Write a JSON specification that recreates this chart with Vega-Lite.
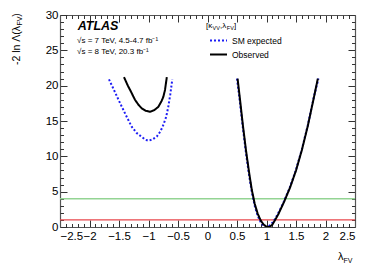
{
  "$schema": "https://vega.github.io/schema/vega-lite/v6.json",
  "width": 295,
  "height": 212,
  "autosize": {"type": "none"},
  "padding": {"left": 60, "top": 15, "right": 19, "bottom": 44},
  "background": "white",
  "config": {
    "view": {"stroke": null},
    "font": "Liberation Sans",
    "text": {"font": "Liberation Sans", "color": "black"},
    "axis": {"grid": false, "labelFont": "Liberation Sans", "labelFontSize": 11, "labelColor": "black", "domainColor": "#555", "domainWidth": 1.2, "tickColor": "#333", "tickWidth": 1, "title": null, "labelOverlap": false},
    "legend": {"padding": 0}
  },
  "datasets": {
    "curves": [
      {"series": "SM expected", "branch": "L", "lambda": -1.67, "nll": 20.9},
      {"series": "SM expected", "branch": "L", "lambda": -1.58, "nll": 19.3},
      {"series": "SM expected", "branch": "L", "lambda": -1.48, "nll": 17.5},
      {"series": "SM expected", "branch": "L", "lambda": -1.37, "nll": 15.6},
      {"series": "SM expected", "branch": "L", "lambda": -1.285, "nll": 14.2},
      {"series": "SM expected", "branch": "L", "lambda": -1.2, "nll": 13.3},
      {"series": "SM expected", "branch": "L", "lambda": -1.115, "nll": 12.75},
      {"series": "SM expected", "branch": "L", "lambda": -1.05, "nll": 12.35},
      {"series": "SM expected", "branch": "L", "lambda": -1.0, "nll": 12.2},
      {"series": "SM expected", "branch": "L", "lambda": -0.93, "nll": 12.4},
      {"series": "SM expected", "branch": "L", "lambda": -0.86, "nll": 12.8},
      {"series": "SM expected", "branch": "L", "lambda": -0.8, "nll": 13.5},
      {"series": "SM expected", "branch": "L", "lambda": -0.75, "nll": 14.4},
      {"series": "SM expected", "branch": "L", "lambda": -0.7, "nll": 15.6},
      {"series": "SM expected", "branch": "L", "lambda": -0.665, "nll": 17.0},
      {"series": "SM expected", "branch": "L", "lambda": -0.63, "nll": 18.8},
      {"series": "SM expected", "branch": "L", "lambda": -0.597, "nll": 20.9},
      {"series": "SM expected", "branch": "R", "lambda": 0.5, "nll": 21.0},
      {"series": "SM expected", "branch": "R", "lambda": 0.55, "nll": 17.6},
      {"series": "SM expected", "branch": "R", "lambda": 0.6, "nll": 14.0},
      {"series": "SM expected", "branch": "R", "lambda": 0.65, "nll": 10.6},
      {"series": "SM expected", "branch": "R", "lambda": 0.7, "nll": 7.6},
      {"series": "SM expected", "branch": "R", "lambda": 0.75, "nll": 5.0},
      {"series": "SM expected", "branch": "R", "lambda": 0.8, "nll": 3.0},
      {"series": "SM expected", "branch": "R", "lambda": 0.85, "nll": 1.6},
      {"series": "SM expected", "branch": "R", "lambda": 0.9, "nll": 0.7},
      {"series": "SM expected", "branch": "R", "lambda": 0.95, "nll": 0.18},
      {"series": "SM expected", "branch": "R", "lambda": 1.0, "nll": 0.0},
      {"series": "SM expected", "branch": "R", "lambda": 1.05, "nll": 0.2},
      {"series": "SM expected", "branch": "R", "lambda": 1.1, "nll": 0.6},
      {"series": "SM expected", "branch": "R", "lambda": 1.15, "nll": 1.2},
      {"series": "SM expected", "branch": "R", "lambda": 1.2, "nll": 2.0},
      {"series": "SM expected", "branch": "R", "lambda": 1.25, "nll": 2.8},
      {"series": "SM expected", "branch": "R", "lambda": 1.3, "nll": 3.7},
      {"series": "SM expected", "branch": "R", "lambda": 1.35, "nll": 4.7},
      {"series": "SM expected", "branch": "R", "lambda": 1.4, "nll": 5.7},
      {"series": "SM expected", "branch": "R", "lambda": 1.5, "nll": 8.1},
      {"series": "SM expected", "branch": "R", "lambda": 1.6, "nll": 11.0},
      {"series": "SM expected", "branch": "R", "lambda": 1.7, "nll": 14.4},
      {"series": "SM expected", "branch": "R", "lambda": 1.8, "nll": 18.3},
      {"series": "SM expected", "branch": "R", "lambda": 1.88, "nll": 21.0},
      {"series": "Observed", "branch": "L", "lambda": -1.415, "nll": 21.2},
      {"series": "Observed", "branch": "L", "lambda": -1.35, "nll": 20.0},
      {"series": "Observed", "branch": "L", "lambda": -1.3, "nll": 19.2},
      {"series": "Observed", "branch": "L", "lambda": -1.229, "nll": 18.0},
      {"series": "Observed", "branch": "L", "lambda": -1.17, "nll": 17.3},
      {"series": "Observed", "branch": "L", "lambda": -1.115, "nll": 16.8},
      {"series": "Observed", "branch": "L", "lambda": -1.05, "nll": 16.45},
      {"series": "Observed", "branch": "L", "lambda": -0.975, "nll": 16.3},
      {"series": "Observed", "branch": "L", "lambda": -0.9, "nll": 16.55},
      {"series": "Observed", "branch": "L", "lambda": -0.834, "nll": 17.0},
      {"series": "Observed", "branch": "L", "lambda": -0.78, "nll": 17.8},
      {"series": "Observed", "branch": "L", "lambda": -0.749, "nll": 18.4},
      {"series": "Observed", "branch": "L", "lambda": -0.72, "nll": 19.4},
      {"series": "Observed", "branch": "L", "lambda": -0.69, "nll": 21.2},
      {"series": "Observed", "branch": "R", "lambda": 0.51, "nll": 21.0},
      {"series": "Observed", "branch": "R", "lambda": 0.55, "nll": 18.1},
      {"series": "Observed", "branch": "R", "lambda": 0.6, "nll": 14.4},
      {"series": "Observed", "branch": "R", "lambda": 0.65, "nll": 11.0},
      {"series": "Observed", "branch": "R", "lambda": 0.7, "nll": 8.0},
      {"series": "Observed", "branch": "R", "lambda": 0.75, "nll": 5.3},
      {"series": "Observed", "branch": "R", "lambda": 0.8, "nll": 3.3},
      {"series": "Observed", "branch": "R", "lambda": 0.85, "nll": 1.9},
      {"series": "Observed", "branch": "R", "lambda": 0.9, "nll": 0.95},
      {"series": "Observed", "branch": "R", "lambda": 0.95, "nll": 0.35},
      {"series": "Observed", "branch": "R", "lambda": 1.0, "nll": 0.04},
      {"series": "Observed", "branch": "R", "lambda": 1.03, "nll": 0.0},
      {"series": "Observed", "branch": "R", "lambda": 1.06, "nll": 0.05},
      {"series": "Observed", "branch": "R", "lambda": 1.1, "nll": 0.35},
      {"series": "Observed", "branch": "R", "lambda": 1.15, "nll": 1.05},
      {"series": "Observed", "branch": "R", "lambda": 1.2, "nll": 1.8},
      {"series": "Observed", "branch": "R", "lambda": 1.25, "nll": 2.7},
      {"series": "Observed", "branch": "R", "lambda": 1.3, "nll": 3.6},
      {"series": "Observed", "branch": "R", "lambda": 1.35, "nll": 4.6},
      {"series": "Observed", "branch": "R", "lambda": 1.4, "nll": 5.6},
      {"series": "Observed", "branch": "R", "lambda": 1.5, "nll": 8.0},
      {"series": "Observed", "branch": "R", "lambda": 1.6, "nll": 10.9},
      {"series": "Observed", "branch": "R", "lambda": 1.7, "nll": 14.3},
      {"series": "Observed", "branch": "R", "lambda": 1.8, "nll": 18.2},
      {"series": "Observed", "branch": "R", "lambda": 1.87, "nll": 21.0}
    ]
  },
  "layer": [
    {
      "data": {"values": [{}]},
      "mark": {"type": "rule", "color": "#93d493", "strokeWidth": 1.5},
      "encoding": {"y": {"datum": 4, "type": "quantitative", "scale": {"domain": [0, 30], "nice": false}, "axis": null}}
    },
    {
      "data": {"values": [{}]},
      "mark": {"type": "rule", "color": "#e8474c", "strokeWidth": 1.3},
      "encoding": {"y": {"datum": 1, "type": "quantitative", "scale": {"domain": [0, 30], "nice": false}, "axis": null}}
    },
    {
      "data": {"name": "curves"},
      "mark": {"type": "line", "strokeWidth": 2, "clip": true},
      "encoding": {
        "x": {"field": "lambda", "type": "quantitative", "scale": {"domain": [-2.5, 2.5], "nice": false, "zero": false},
          "axis": {"orient": "bottom", "values": [-2.5, -2, -1.5, -1, -0.5, 0, 0.5, 1, 1.5, 2, 2.5], "tickSize": -7, "labelPadding": 10, "format": "~g", "labelFontSize": 11.5}},
        "y": {"field": "nll", "type": "quantitative", "scale": {"domain": [0, 30], "nice": false},
          "axis": {"orient": "left", "values": [0, 5, 10, 15, 20, 25, 30], "tickSize": -7, "labelPadding": 9, "labelFontSize": 11.5}},
        "detail": {"field": "branch"},
        "color": {"field": "series", "type": "nominal", "scale": {"domain": ["SM expected", "Observed"], "range": ["#1c1cf5", "black"]},
          "legend": {"orient": "none", "legendX": 149, "legendY": 16, "title": null, "symbolType": "stroke", "symbolSize": 289, "symbolStrokeWidth": 2, "labelFontSize": 8.5, "labelFont": "Liberation Sans", "labelOffset": 4, "rowPadding": -10.5}},
        "strokeDash": {"field": "series", "type": "nominal", "scale": {"domain": ["SM expected", "Observed"], "range": [[2, 2], [1, 0]]},
          "legend": {"orient": "none", "legendX": 149, "legendY": 16, "title": null, "symbolType": "stroke", "symbolSize": 289, "symbolStrokeWidth": 2, "labelFontSize": 8.5, "labelFont": "Liberation Sans", "labelOffset": 4, "rowPadding": -10.5}}
      }
    },
    {
      "data": {"name": "curves"},
      "mark": {"type": "point", "opacity": 0},
      "encoding": {
        "x": {"field": "lambda", "type": "quantitative", "scale": {"domain": [-2.5, 2.5], "nice": false, "zero": false},
          "axis": {"orient": "bottom", "values": [-2.4, -2.3, -2.2, -2.1, -1.9, -1.8, -1.7, -1.6, -1.4, -1.3, -1.2, -1.1, -0.9, -0.8, -0.7, -0.6, -0.4, -0.3, -0.2, -0.1, 0.1, 0.2, 0.3, 0.4, 0.6, 0.7, 0.8, 0.9, 1.1, 1.2, 1.3, 1.4, 1.6, 1.7, 1.8, 1.9, 2.1, 2.2, 2.3, 2.4], "tickSize": -3.5, "labels": false, "domain": false}},
        "y": {"field": "nll", "type": "quantitative", "scale": {"domain": [0, 30], "nice": false},
          "axis": {"orient": "left", "values": [1, 2, 3, 4, 6, 7, 8, 9, 11, 12, 13, 14, 16, 17, 18, 19, 21, 22, 23, 24, 26, 27, 28, 29], "tickSize": -3.5, "labels": false, "domain": false}}
      }
    },
    {
      "data": {"name": "curves"},
      "mark": {"type": "point", "opacity": 0},
      "encoding": {
        "x": {"field": "lambda", "type": "quantitative", "scale": {"domain": [-2.5, 2.5], "nice": false, "zero": false},
          "axis": {"orient": "top", "values": [-2.5, -2, -1.5, -1, -0.5, 0, 0.5, 1, 1.5, 2, 2.5], "tickSize": -7, "labels": false}},
        "y": {"field": "nll", "type": "quantitative", "scale": {"domain": [0, 30], "nice": false},
          "axis": {"orient": "right", "values": [0, 5, 10, 15, 20, 25, 30], "tickSize": -7, "labels": false}}
      }
    },
    {
      "data": {"name": "curves"},
      "mark": {"type": "point", "opacity": 0},
      "encoding": {
        "x": {"field": "lambda", "type": "quantitative", "scale": {"domain": [-2.5, 2.5], "nice": false, "zero": false},
          "axis": {"orient": "top", "values": [-2.4, -2.3, -2.2, -2.1, -1.9, -1.8, -1.7, -1.6, -1.4, -1.3, -1.2, -1.1, -0.9, -0.8, -0.7, -0.6, -0.4, -0.3, -0.2, -0.1, 0.1, 0.2, 0.3, 0.4, 0.6, 0.7, 0.8, 0.9, 1.1, 1.2, 1.3, 1.4, 1.6, 1.7, 1.8, 1.9, 2.1, 2.2, 2.3, 2.4], "tickSize": -3.5, "labels": false, "domain": false}},
        "y": {"field": "nll", "type": "quantitative", "scale": {"domain": [0, 30], "nice": false},
          "axis": {"orient": "right", "values": [1, 2, 3, 4, 6, 7, 8, 9, 11, 12, 13, 14, 16, 17, 18, 19, 21, 22, 23, 24, 26, 27, 28, 29], "tickSize": -3.5, "labels": false, "domain": false}}
      }
    },
    {
      "data": {"values": [{}]},
      "mark": {"type": "text", "text": "ATLAS", "color": "black", "fontWeight": "bold", "fontStyle": "italic", "fontSize": 12.5, "align": "left", "baseline": "alphabetic"},
      "encoding": {"x": {"datum": -2.2, "type": "quantitative", "axis": null}, "y": {"datum": 27.87, "type": "quantitative", "axis": null}}
    },
    {
      "data": {"values": [{}]},
      "mark": {"type": "text", "text": "√s = 7 TeV, 4.5-4.7 fb⁻¹", "color": "black", "fontSize": 8, "align": "left", "baseline": "alphabetic"},
      "encoding": {"x": {"datum": -2.21, "type": "quantitative", "axis": null}, "y": {"datum": 26.0, "type": "quantitative", "axis": null}}
    },
    {
      "data": {"values": [{}]},
      "mark": {"type": "text", "text": "√s = 8 TeV, 20.3 fb⁻¹", "color": "black", "fontSize": 8, "align": "left", "baseline": "alphabetic"},
      "encoding": {"x": {"datum": -2.21, "type": "quantitative", "axis": null}, "y": {"datum": 24.5, "type": "quantitative", "axis": null}}
    },
    {
      "data": {"values": [{}]},
      "mark": {"type": "text", "text": "[κ", "color": "black", "fontSize": 8, "align": "left", "baseline": "alphabetic"},
      "encoding": {"x": {"datum": -0.025, "type": "quantitative", "axis": null}, "y": {"datum": 28.2, "type": "quantitative", "axis": null}}
    },
    {
      "data": {"values": [{}]},
      "mark": {"type": "text", "text": "VV", "color": "black", "fontSize": 5.5, "align": "left", "baseline": "alphabetic", "dx": 6.5, "dy": 2},
      "encoding": {"x": {"datum": -0.025, "type": "quantitative", "axis": null}, "y": {"datum": 28.2, "type": "quantitative", "axis": null}}
    },
    {
      "data": {"values": [{}]},
      "mark": {"type": "text", "text": ",λ", "color": "black", "fontSize": 8, "align": "left", "baseline": "alphabetic", "dx": 14},
      "encoding": {"x": {"datum": -0.025, "type": "quantitative", "axis": null}, "y": {"datum": 28.2, "type": "quantitative", "axis": null}}
    },
    {
      "data": {"values": [{}]},
      "mark": {"type": "text", "text": "FV", "color": "black", "fontSize": 5.5, "align": "left", "baseline": "alphabetic", "dx": 20.8, "dy": 2},
      "encoding": {"x": {"datum": -0.025, "type": "quantitative", "axis": null}, "y": {"datum": 28.2, "type": "quantitative", "axis": null}}
    },
    {
      "data": {"values": [{}]},
      "mark": {"type": "text", "text": "]", "color": "black", "fontSize": 8, "align": "left", "baseline": "alphabetic", "dx": 28},
      "encoding": {"x": {"datum": -0.025, "type": "quantitative", "axis": null}, "y": {"datum": 28.2, "type": "quantitative", "axis": null}}
    },
    {
      "data": {"values": [{}]},
      "mark": {"type": "text", "text": "λ", "color": "black", "fontSize": 11, "align": "left", "baseline": "alphabetic"},
      "encoding": {"x": {"datum": 2.212, "type": "quantitative", "axis": null}, "y": {"datum": -4.67, "type": "quantitative", "axis": null}}
    },
    {
      "data": {"values": [{}]},
      "mark": {"type": "text", "text": "FV", "color": "black", "fontSize": 7, "align": "left", "baseline": "alphabetic"},
      "encoding": {"x": {"datum": 2.305, "type": "quantitative", "axis": null}, "y": {"datum": -5.09, "type": "quantitative", "axis": null}}
    },
    {
      "data": {"values": [{}]},
      "mark": {"type": "text", "text": "-2 ln Λ(λ", "color": "black", "fontSize": 10.5, "align": "left", "baseline": "alphabetic", "angle": 270},
      "encoding": {"x": {"datum": -3.186, "type": "quantitative", "axis": null}, "y": {"datum": 22.91, "type": "quantitative", "axis": null}}
    },
    {
      "data": {"values": [{}]},
      "mark": {"type": "text", "text": "FV", "color": "black", "fontSize": 7, "align": "left", "baseline": "alphabetic", "angle": 270},
      "encoding": {"x": {"datum": -3.144, "type": "quantitative", "axis": null}, "y": {"datum": 28.5, "type": "quantitative", "axis": null}}
    },
    {
      "data": {"values": [{}]},
      "mark": {"type": "text", "text": ")", "color": "black", "fontSize": 10.5, "align": "left", "baseline": "alphabetic", "angle": 270},
      "encoding": {"x": {"datum": -3.186, "type": "quantitative", "axis": null}, "y": {"datum": 29.77, "type": "quantitative", "axis": null}}
    }
  ],
  "resolve": {"axis": {"x": "independent", "y": "independent"}}
}
